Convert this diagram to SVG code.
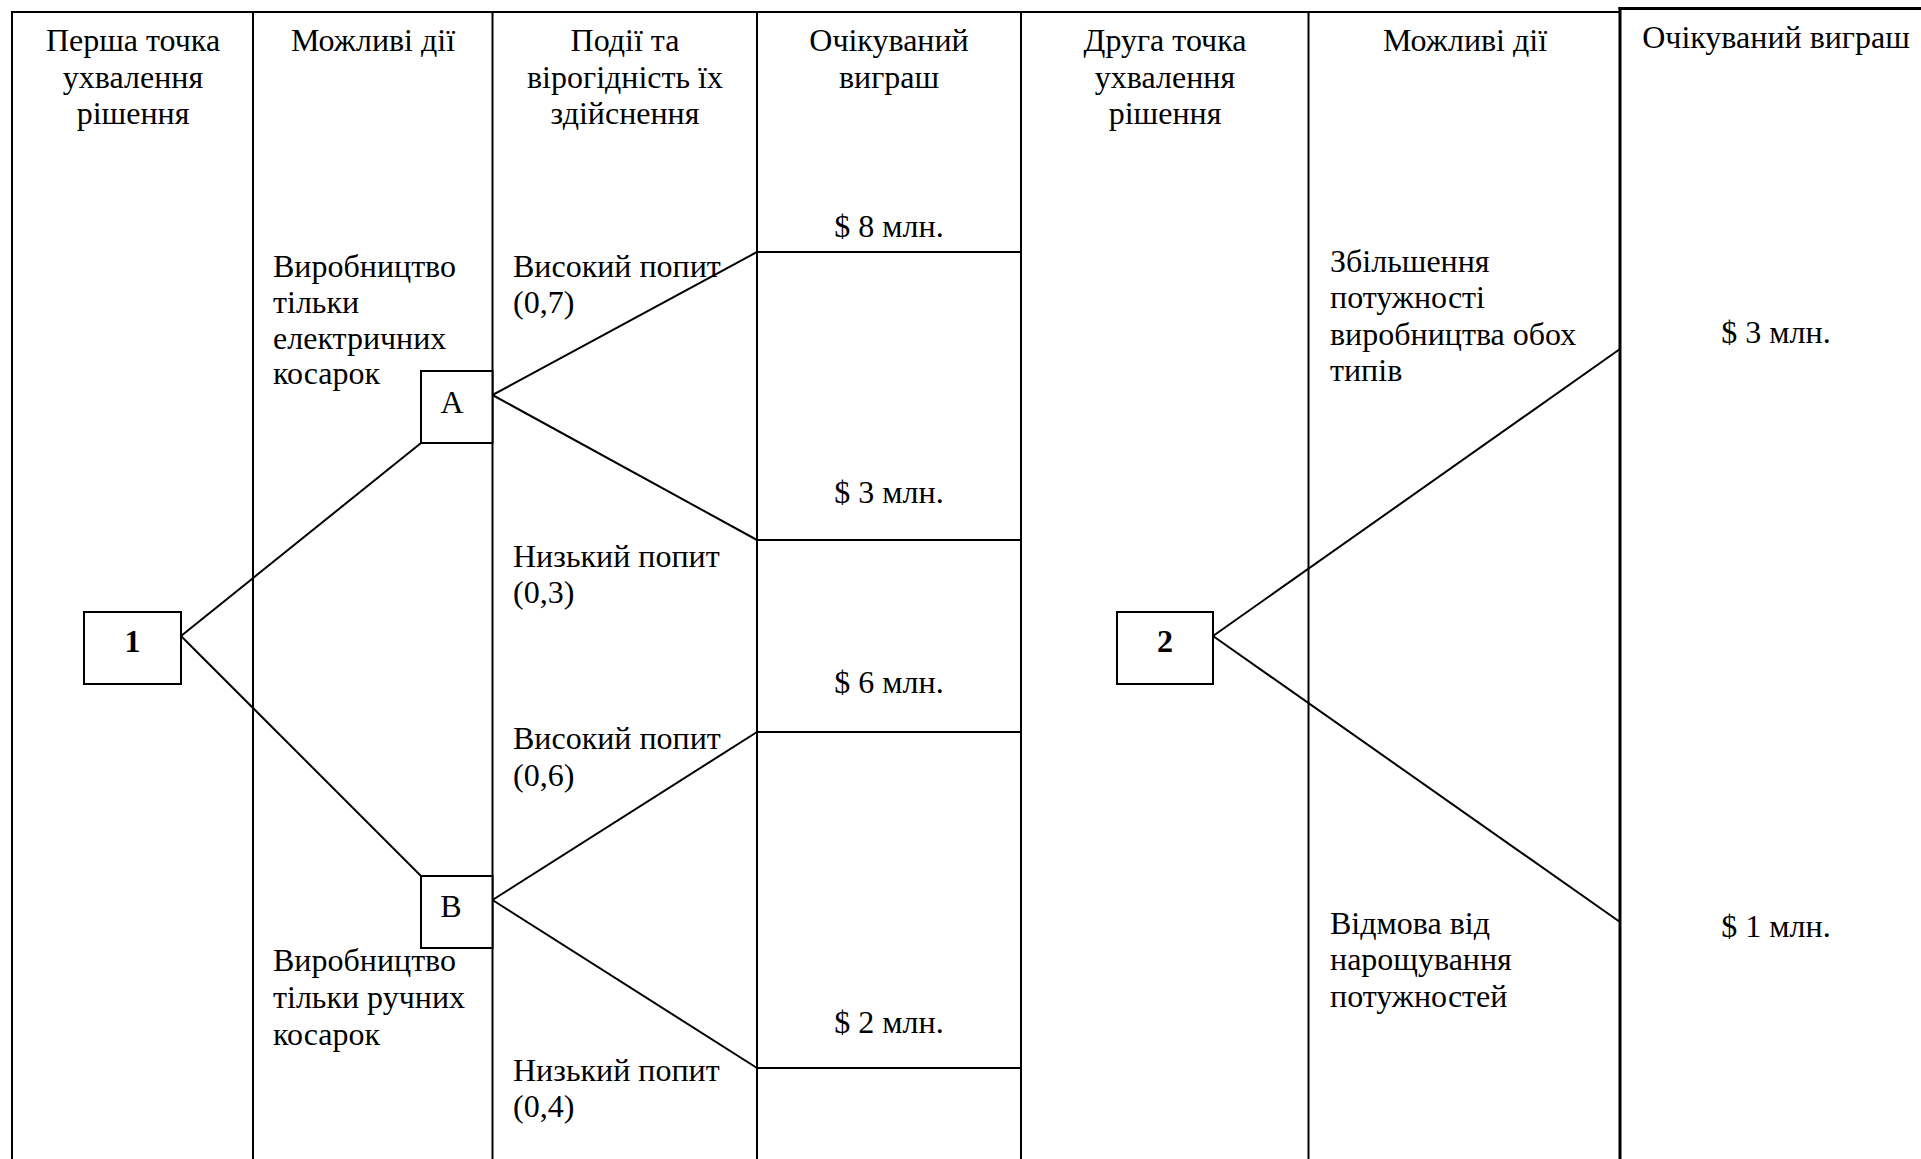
<svg xmlns="http://www.w3.org/2000/svg" width="1921" height="1159" viewBox="0 0 1921 1159">
<style>
.t{font-family:"Liberation Serif","Times New Roman",serif;font-size:32px;fill:#000}
.c{text-anchor:middle}
.b{font-weight:bold}
.ln{stroke:#000;stroke-width:2;fill:none}
.thick{stroke:#000;stroke-width:3;fill:none}
.box{stroke:#000;stroke-width:2;fill:#fff}
</style>
<rect width="1921" height="1159" fill="#fff"/>
<g id="grid">
<line class="ln" x1="12" y1="12" x2="1620" y2="12"/>
<line class="ln" x1="12" y1="11" x2="12" y2="1159"/>
<line class="ln" x1="253" y1="11" x2="253" y2="1159"/>
<line class="ln" x1="492.5" y1="11" x2="492.5" y2="1159"/>
<line class="ln" x1="757" y1="11" x2="757" y2="1159"/>
<line class="ln" x1="1021" y1="11" x2="1021" y2="1159"/>
<line class="ln" x1="1308.5" y1="11" x2="1308.5" y2="1159"/>
<line class="thick" x1="1618.5" y1="8.5" x2="1921" y2="8.5"/>
<line class="thick" x1="1620" y1="7" x2="1620" y2="1159"/>
<line class="ln" x1="757" y1="252" x2="1021" y2="252"/>
<line class="ln" x1="757" y1="540" x2="1021" y2="540"/>
<line class="ln" x1="757" y1="732" x2="1021" y2="732"/>
<line class="ln" x1="757" y1="1068" x2="1021" y2="1068"/>
</g>
<g id="headers">
<text class="t c" x="133" y="51">Перша точка</text>
<text class="t c" x="133" y="88">ухвалення</text>
<text class="t c" x="133" y="124">рішення</text>
<text class="t c" x="373" y="51">Можливі дії</text>
<text class="t c" x="625" y="51">Події та</text>
<text class="t c" x="625" y="88">вірогідність їх</text>
<text class="t c" x="625" y="124">здійснення</text>
<text class="t c" x="889" y="51">Очікуваний</text>
<text class="t c" x="889" y="88">виграш</text>
<text class="t c" x="1165" y="51">Друга точка</text>
<text class="t c" x="1165" y="88">ухвалення</text>
<text class="t c" x="1165" y="124">рішення</text>
<text class="t c" x="1465" y="51">Можливі дії</text>
<text class="t c" x="1776" y="48">Очікуваний виграш</text>
</g>
<g id="connectors">
<line class="ln" x1="181" y1="636" x2="421" y2="443"/>
<line class="ln" x1="181" y1="636" x2="421" y2="876"/>
<line class="ln" x1="492.5" y1="395" x2="757" y2="252"/>
<line class="ln" x1="492.5" y1="395" x2="757" y2="540"/>
<line class="ln" x1="492.5" y1="900" x2="757" y2="732"/>
<line class="ln" x1="492.5" y1="900" x2="757" y2="1068"/>
<line class="ln" x1="1213" y1="636" x2="1620" y2="349"/>
<line class="ln" x1="1213" y1="636" x2="1620" y2="922"/>
</g>
<g id="node-1">
<rect class="box" x="84" y="612" width="97" height="72"/>
<text class="t c b" x="132.5" y="652">1</text>
</g>
<g id="node-A">
<rect class="box" x="421" y="371" width="71.5" height="72"/>
<text class="t c" x="452" y="413">A</text>
</g>
<g id="node-B">
<rect class="box" x="421" y="876" width="71.5" height="72"/>
<text class="t c" x="451" y="917">B</text>
</g>
<g id="node-2">
<rect class="box" x="1117" y="612" width="96" height="72"/>
<text class="t c b" x="1165" y="652">2</text>
</g>
<g id="labels">
<text class="t" x="273" y="277">Виробництво</text>
<text class="t" x="273" y="313">тільки</text>
<text class="t" x="273" y="349">електричних</text>
<text class="t" x="273" y="384">косарок</text>
<text class="t" x="273" y="971">Виробництво</text>
<text class="t" x="273" y="1008">тільки ручних</text>
<text class="t" x="273" y="1045">косарок</text>
<text class="t" x="513" y="277">Високий попит</text>
<text class="t" x="513" y="313">(0,7)</text>
<text class="t" x="513" y="567">Низький попит</text>
<text class="t" x="513" y="603">(0,3)</text>
<text class="t" x="513" y="749">Високий попит</text>
<text class="t" x="513" y="786">(0,6)</text>
<text class="t" x="513" y="1081">Низький попит</text>
<text class="t" x="513" y="1117">(0,4)</text>
<text class="t c" x="889" y="237">$ 8 млн.</text>
<text class="t c" x="889" y="503">$ 3 млн.</text>
<text class="t c" x="889" y="693">$ 6 млн.</text>
<text class="t c" x="889" y="1033">$ 2 млн.</text>
<text class="t" x="1330" y="272">Збільшення</text>
<text class="t" x="1330" y="308">потужності</text>
<text class="t" x="1330" y="345">виробництва обох</text>
<text class="t" x="1330" y="381">типів</text>
<text class="t" x="1330" y="934">Відмова від</text>
<text class="t" x="1330" y="970">нарощування</text>
<text class="t" x="1330" y="1007">потужностей</text>
<text class="t c" x="1776" y="343">$ 3 млн.</text>
<text class="t c" x="1776" y="937">$ 1 млн.</text>
</g>
</svg>
